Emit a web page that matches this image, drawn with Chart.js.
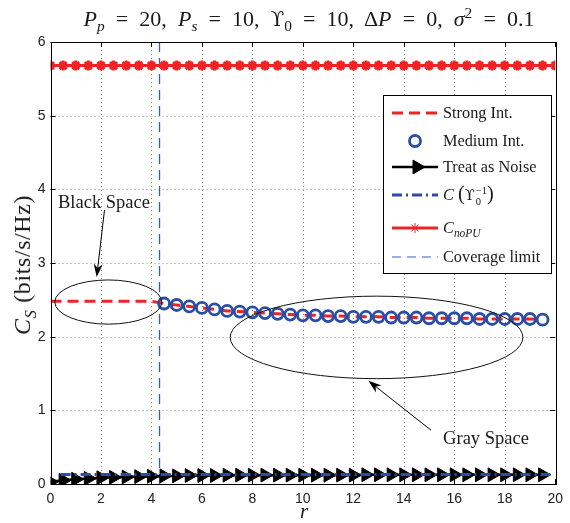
<!DOCTYPE html>
<html><head><meta charset="utf-8">
<script src="https://cdn.jsdelivr.net/npm/chart.js@4/dist/chart.umd.min.js"></script>
<style>
html,body{margin:0;padding:0;background:#fff;}
#wrap{position:relative;width:570px;height:523px;overflow:hidden;}
canvas{position:absolute;left:0;top:0;}
.t{position:absolute;font-family:'Liberation Serif','Times New Roman',serif;color:#1a1a1a;white-space:nowrap;line-height:1;}
.t sub,.t sup{font-size:70%;line-height:0;}
.ss{display:inline-flex;flex-direction:column;font-size:65%;vertical-align:middle;line-height:1.05;margin-left:1px;}
.up{font-family:'DejaVu Serif',serif;font-size:90%;}
</style></head>
<body><div id="wrap">
<canvas id="c" width="570" height="523"></canvas>
<div class="t" id="title" style="left:309px;top:19px;font-size:22px;word-spacing:5.6px;transform:translate(-50%,-50%);"><i>P</i><sub><i>p</i></sub> = 20, <i>P</i><sub><i>s</i></sub> = 10, <span class="up">ϒ</span><sub>0</sub> = 10, Δ<i>P</i> = 0, <i>σ</i><sup>2</sup> = 0.1</div>
<div class="t" style="left:22px;top:265px;font-size:24px;letter-spacing:0.6px;transform:translate(-50%,-50%) rotate(-90deg);"><i>C</i><sub><i>S</i></sub> (bits/s/Hz)</div>
<div class="t" style="left:304px;top:511px;font-size:21px;transform:translate(-50%,-50%);"><i>r</i></div>
<div class="t" style="left:104px;top:202px;font-size:18.5px;transform:translate(-50%,-50%);">Black Space</div>
<div class="t" style="left:486px;top:438px;font-size:18.5px;transform:translate(-50%,-50%);">Gray Space</div>
<div class="t" style="left:443px;top:113px;font-size:16.3px;transform:translateY(-50%);">Strong Int.</div>
<div class="t" style="left:443px;top:141px;font-size:16.3px;transform:translateY(-50%);">Medium Int.</div>
<div class="t" style="left:443px;top:167px;font-size:16.3px;transform:translateY(-50%);">Treat as Noise</div>
<div class="t" style="left:443px;top:195px;font-size:16.3px;transform:translateY(-50%);"><i>C</i> <span style="font-size:125%">(</span><span class="up">ϒ</span><span class="ss"><span>−1</span><span>0</span></span><span style="font-size:125%">)</span></div>
<div class="t" style="left:443px;top:228px;font-size:16.3px;transform:translateY(-50%);"><i>C</i><sub><i>noPU</i></sub></div>
<div class="t" style="left:443px;top:257px;font-size:16.3px;transform:translateY(-50%);">Coverage limit</div>
</div>
<script>
// ---- data ----
const rAll = [0,0.5,1,1.5,2,2.5,3,3.5,4,4.5,5,5.5,6,6.5,7,7.5,8,8.5,9,9.5,10,10.5,11,11.5,12,12.5,13,13.5,14,14.5,15,15.5,16,16.5,17,17.5,18,18.5,19,19.5,20];
const cNoPU = [5.68,5.68,5.68,5.68,5.68,5.68,5.68,5.68,5.68,5.68,5.68,5.68,5.68,5.68,5.68,5.68,5.68,5.68,5.68,5.68,5.68,5.68,5.68,5.68,5.68,5.68,5.68,5.68,5.68,5.68,5.68,5.68,5.68,5.68,5.68,5.68,5.68,5.68,5.68,5.68,5.68];
const rStrong = [0,0.5,1,1.5,2,2.5,3,3.5,4,4.5,5,5.5,6,6.5,7,7.5,8,8.5,9,9.5,10,10.5,11,11.5,12,12.5,13,13.5,14,14.5,15,15.5,16,16.5,17,17.5,18,18.5,19,19.5];
const strongInt = [2.48,2.48,2.48,2.48,2.48,2.48,2.48,2.48,2.48,2.45,2.43,2.41,2.39,2.37,2.35,2.34,2.33,2.32,2.31,2.30,2.29,2.29,2.28,2.28,2.27,2.27,2.27,2.26,2.26,2.26,2.25,2.25,2.25,2.25,2.24,2.24,2.24,2.24,2.24,2.23];
const rMedium = [4.5,5,5.5,6,6.5,7,7.5,8,8.5,9,9.5,10,10.5,11,11.5,12,12.5,13,13.5,14,14.5,15,15.5,16,16.5,17,17.5,18,18.5,19,19.5];
const mediumInt = [2.45,2.43,2.41,2.39,2.37,2.35,2.34,2.33,2.32,2.31,2.30,2.29,2.29,2.28,2.28,2.27,2.27,2.27,2.26,2.26,2.26,2.25,2.25,2.25,2.25,2.24,2.24,2.24,2.24,2.24,2.23];
const rNoise = [0,0.5,1,1.5,2,2.5,3,3.5,4,4.5,5,5.5,6,6.5,7,7.5,8,8.5,9,9.5,10,10.5,11,11.5,12,12.5,13,13.5,14,14.5,15,15.5,16,16.5,17,17.5,18,18.5,19,19.5];
const treatNoise = [0.03,0.05,0.065,0.075,0.085,0.09,0.095,0.10,0.105,0.11,0.11,0.115,0.115,0.115,0.12,0.12,0.12,0.12,0.12,0.12,0.12,0.12,0.12,0.12,0.12,0.125,0.125,0.125,0.125,0.125,0.125,0.125,0.125,0.125,0.125,0.125,0.125,0.125,0.125,0.125];
const rInvUps = [0.4,19.8];
const cInvUps = [0.13,0.13];
const rCoverage = [4.32,4.32];
const coverage = [0,6];
const xTicks = [0,2,4,6,8,10,12,14,16,18,20];
const yTicks = [0,1,2,3,4,5,6];
// annotations in data units: [cx, cy, rx, ry]
const blackEllipse = [2.29,2.47,2.12,0.30];
const grayEllipse = [12.92,1.99,5.8,0.56];
// arrows: [x1,y1,x2,y2] (tail -> tip)
const blackArrow = [2.14,3.72,1.83,2.81];
const grayArrow = [15.08,0.73,12.6,1.40];

const RED = '#ee2424', BLUE = '#2a4da6', LBLUE = '#3b5fbd';
const pts = (xs, ys) => xs.map((x, i) => ({x: x, y: ys[i]}));

function arrow(ctx, x1, y1, x2, y2) {
  const a = Math.atan2(y2 - y1, x2 - x1), L = 13, W = 4.5;
  ctx.save();
  ctx.strokeStyle = '#000'; ctx.fillStyle = '#000'; ctx.lineWidth = 1;
  ctx.beginPath(); ctx.moveTo(x1, y1);
  ctx.lineTo(x2 - Math.cos(a) * L * 0.6, y2 - Math.sin(a) * L * 0.6); ctx.stroke();
  ctx.translate(x2, y2); ctx.rotate(a);
  ctx.beginPath(); ctx.moveTo(0, 0); ctx.lineTo(-L, -W); ctx.lineTo(-L * 0.7, 0); ctx.lineTo(-L, W); ctx.closePath(); ctx.fill();
  ctx.restore();
}

const deco = {
  id: 'deco',
  beforeDatasetsDraw(chart) {
    const {ctx, chartArea: a, scales: {x, y}} = chart;
    ctx.save();
    ctx.strokeStyle = '#8a8a8a'; ctx.lineWidth = 1; ctx.setLineDash([1, 3]);
    xTicks.forEach(v => { const p = Math.round(x.getPixelForValue(v)) + 0.5; if (v > 0 && v < 20) { ctx.beginPath(); ctx.moveTo(p, a.top); ctx.lineTo(p, a.bottom); ctx.stroke(); } });
    yTicks.forEach(v => { const p = Math.round(y.getPixelForValue(v)) + 0.5; if (v > 0 && v < 6) { ctx.beginPath(); ctx.moveTo(a.left, p); ctx.lineTo(a.right, p); ctx.stroke(); } });
    ctx.restore();
  },
  afterDatasetsDraw(chart) {
    const {ctx, chartArea: a, scales: {x, y}} = chart;
    ctx.save();
    ctx.strokeStyle = '#000'; ctx.lineWidth = 1; ctx.setLineDash([]);
    ctx.strokeRect(Math.round(a.left) + 0.5, Math.round(a.top) + 0.5, Math.round(a.right - a.left), Math.round(a.bottom - a.top));
    const T = 5;
    xTicks.forEach(v => { const p = Math.round(x.getPixelForValue(v)) + 0.5;
      ctx.beginPath(); ctx.moveTo(p, a.bottom); ctx.lineTo(p, a.bottom - T); ctx.moveTo(p, a.top); ctx.lineTo(p, a.top + T); ctx.stroke(); });
    yTicks.forEach(v => { const p = Math.round(y.getPixelForValue(v)) + 0.5;
      ctx.beginPath(); ctx.moveTo(a.left, p); ctx.lineTo(a.left + T, p); ctx.moveTo(a.right, p); ctx.lineTo(a.right - T, p); ctx.stroke(); });
    [blackEllipse, grayEllipse].forEach(e => {
      const cx = x.getPixelForValue(e[0]), cy = y.getPixelForValue(e[1]);
      const rx = x.getPixelForValue(e[0] + e[2]) - cx, ry = cy - y.getPixelForValue(e[1] + e[3]);
      ctx.beginPath(); ctx.ellipse(cx, cy, rx, ry, 0, 0, Math.PI * 2); ctx.strokeStyle = '#111'; ctx.lineWidth = 1; ctx.stroke();
    });
    [blackArrow, grayArrow].forEach(r => arrow(ctx, x.getPixelForValue(r[0]), y.getPixelForValue(r[1]), x.getPixelForValue(r[2]), y.getPixelForValue(r[3])));
    const L = 383.5, Tp = 95.5, R = 551.5, B = 273.5;
    ctx.fillStyle = '#fff'; ctx.fillRect(L, Tp, R - L, B - Tp);
    ctx.strokeStyle = '#000'; ctx.lineWidth = 1; ctx.strokeRect(L, Tp, R - L, B - Tp);
    const s0 = 392, s1 = 438, sm = 415;
    const rows = [113, 141, 167, 195, 228, 257];
    const seg = (yy, color, w, dash) => { ctx.save(); ctx.strokeStyle = color; ctx.lineWidth = w; ctx.setLineDash(dash); ctx.beginPath(); ctx.moveTo(s0, yy); ctx.lineTo(s1, yy); ctx.stroke(); ctx.restore(); };
    const dp = (o, xx, yy) => { ctx.save(); Chart.helpers.drawPoint(ctx, o, xx, yy); ctx.restore(); };
    seg(rows[0], RED, 3, [11, 6]);
    ctx.save(); ctx.strokeStyle = BLUE; ctx.lineWidth = 2.8; ctx.beginPath(); ctx.arc(sm, rows[1], 5.5, 0, Math.PI * 2); ctx.stroke(); ctx.restore();
    seg(rows[2], '#000', 2.5, []);
    ctx.save(); ctx.fillStyle = '#000'; ctx.strokeStyle = '#000'; ctx.lineWidth = 1;
    dp({pointStyle: 'triangle', rotation: 90, radius: 8, borderWidth: 1}, sm + 2, rows[2]); ctx.restore();
    seg(rows[3], BLUE, 3, [10, 4, 2, 4]);
    seg(rows[4], RED, 3, []);
    ctx.save(); ctx.strokeStyle = RED; ctx.fillStyle = RED;
    dp({pointStyle: 'star', rotation: 0, radius: 5, borderWidth: 3}, sm, rows[4]); ctx.restore();
    seg(rows[5], LBLUE, 1, [9, 6]);
    ctx.restore();
  }
};

new Chart(document.getElementById('c'), {
  type: 'scatter',
  data: {
    datasets: [
      {label: 'Coverage limit', data: pts(rCoverage, coverage), showLine: true, borderColor: LBLUE, borderWidth: 1.3, borderDash: [10, 6], pointRadius: 0, order: 6},
      {label: 'C_noPU', data: pts(rAll, cNoPU), showLine: true, borderColor: RED, backgroundColor: RED, borderWidth: 3, pointStyle: 'star', pointRadius: 5, pointBorderWidth: 3, order: 5},
      {label: 'Strong Int.', data: pts(rStrong, strongInt), showLine: true, borderColor: RED, borderWidth: 3, borderDash: [11, 6], pointRadius: 0, order: 4},
      {label: 'Medium Int.', data: pts(rMedium, mediumInt), showLine: false, borderColor: BLUE, backgroundColor: 'rgba(0,0,0,0)', pointStyle: 'circle', pointRadius: 5.5, pointBorderWidth: 2.8, order: 3},
      {label: 'Treat as Noise', data: pts(rNoise, treatNoise), showLine: true, borderColor: '#000', backgroundColor: '#000', borderWidth: 2.5, pointStyle: 'triangle', pointRotation: 90, pointRadius: 8, pointBorderWidth: 1, order: 2},
      {label: 'C(Y0^-1)', data: pts(rInvUps, cInvUps), showLine: true, borderColor: BLUE, borderWidth: 3, borderDash: [10, 4, 2, 4], pointRadius: 0, order: 1}
    ]
  },
  options: {
    responsive: false, animation: false, devicePixelRatio: 1,
    layout: {padding: {top: 42, right: 9, left: 0, bottom: 0}},
    plugins: {legend: {display: false}, tooltip: {enabled: false}, title: {display: false}},
    elements: {line: {tension: 0}},
    scales: {
      x: {type: 'linear', min: 0, max: 20,
        afterFit: s => { s.height = 39; },
        afterBuildTicks: s => { s.ticks = xTicks.map(v => ({value: v})); },
        grid: {display: false, drawTicks: false}, border: {display: false},
        ticks: {padding: 7, color: '#222', font: {family: "'Liberation Sans', Arial, sans-serif", size: 14}, maxRotation: 0, autoSkip: false}},
      y: {type: 'linear', min: 0, max: 6,
        afterFit: s => { s.width = 50.5; },
        afterBuildTicks: s => { s.ticks = yTicks.map(v => ({value: v})); },
        grid: {display: false, drawTicks: false}, border: {display: false},
        ticks: {padding: 5, color: '#222', font: {family: "'Liberation Sans', Arial, sans-serif", size: 14}, autoSkip: false}}
    }
  },
  plugins: [deco]
});
</script>
</body></html>
